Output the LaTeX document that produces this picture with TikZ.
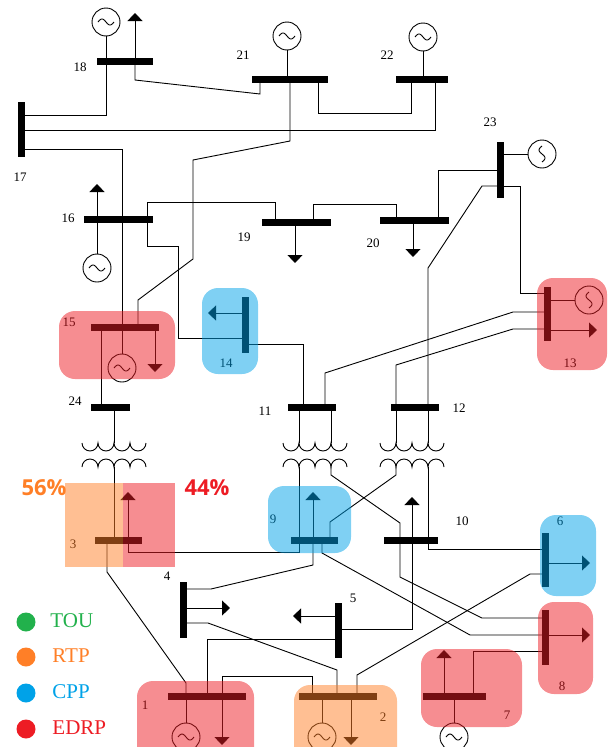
\documentclass[tikz,border=0pt]{standalone}
\usepackage{fontspec}
\setmainfont{Liberation Serif}
\newfontfamily\pctfont{Open Sans}
\usetikzlibrary{arrows.meta}
\definecolor{edrp}{RGB}{237,28,36}
\definecolor{rtp}{RGB}{255,127,39}
\definecolor{cpp}{RGB}{0,162,232}
\definecolor{tou}{RGB}{34,177,76}
\begin{document}
\begin{tikzpicture}[x=1pt,y=-1pt,line width=0.9pt,
  hbus/.style={rectangle,fill=black,inner sep=0pt,minimum height=7pt,minimum width=#1},
  vbus/.style={rectangle,fill=black,inner sep=0pt,minimum width=7pt,minimum height=#1},
  genbase/.style={circle,draw,inner sep=0pt,minimum size=28pt},
  gen/.style={genbase,path picture={\draw[shift={(path picture bounding box.center)}]
    plot[domain=-180:180,samples=25,smooth] ({\x/180*8},{3*sin(\x)});}},
  genv/.style={genbase,path picture={\draw[shift={(path picture bounding box.center)}]
    plot[domain=-180:180,samples=25,smooth] ({3*sin(\x)},{\x/180*8});}},
  load/.style={-{Triangle[width=15pt,length=8pt]}},
  num/.style={font=\fontsize{13}{15}\selectfont,inner sep=0pt},
  key/.style={font=\fontsize{21}{24}\selectfont,inner sep=0pt,anchor=west},
  pct/.style={font=\pctfont\bfseries\fontsize{22}{26}\selectfont,inner sep=0pt},
  dot/.style={circle,inner sep=0pt,minimum size=19pt},
  box/.style={fill=#1,fill opacity=0.5}]
\useasboundingbox (0,0) rectangle (611,747);
\clip (0,0) rectangle (611,747);

% buses
\node[hbus=56pt] (b18) at (125,61) {};
\node[hbus=76pt] (b21) at (290,79) {};
\node[hbus=52pt] (b22) at (422,79) {};
\node[vbus=55pt] (b17) at (21,129.5) {};
\node[hbus=69pt] (b16) at (118.5,219) {};
\node[hbus=69pt] (b19) at (296.5,222) {};
\node[hbus=69pt] (b20) at (414.5,220) {};
\node[vbus=56pt] (b23) at (500,170) {};
\node[vbus=54pt] (b13) at (547,314) {};
\node[vbus=56pt] (b14) at (245,325) {};
\node[hbus=68pt] (b15) at (125,327) {};
\node[hbus=39pt] (b24) at (110.5,407) {};
\node[hbus=48pt] (b11) at (312,407) {};
\node[hbus=48pt] (b12) at (415,407) {};
\node[hbus=47pt] (b3) at (118.5,540) {};
\node[hbus=47pt] (b9) at (314.5,540) {};
\node[hbus=54pt] (b10) at (411,540) {};
\node[vbus=56pt] (b4) at (183,610) {};
\node[vbus=55pt] (b5) at (338,630.5) {};
\node[vbus=54pt] (b6) at (545,560) {};
\node[vbus=55pt] (b8) at (545,637.5) {};
\node[hbus=78pt] (b1) at (207,696) {};
\node[hbus=78pt] (b2) at (338,696) {};
\node[hbus=63pt] (b7) at (454.5,696) {};

% generators
\node[gen] (g18) at (106,22) {};
\node[gen] (g21) at (287,36) {};
\node[gen] (g22) at (423,37) {};
\node[genv] (g23) at (542,154) {};
\node[genv] (g13) at (589,300) {};
\node[gen] (g16) at (97,268) {};
\node[gen] (g15) at (122,368) {};
\node[gen] (g1) at (186,737) {};
\node[gen] (g2) at (322,737) {};
\node[gen] (g7) at (454,737) {};
\draw (g18) -- (g18 |- b18);
\draw (g21) -- (g21 |- b21);
\draw (g22) -- (g22 |- b22);
\draw (g23) -- (b23 |- g23);
\draw (g13) -- (b13 |- g13);
\draw (g16) -- (g16 |- b16);
\draw (g15) -- (g15 |- b15);
\draw (g1) -- (g1 |- b1);
\draw (g2) -- (g2 |- b2);
\draw (g7) -- (g7 |- b7);

% loads
\draw[load] (135,0 |- b18) -- (135,13);
\draw[load] (97,0 |- b16) -- (97,184);
\draw[load] (295,0 |- b19) -- (295,263);
\draw[load] (413,0 |- b20) -- (413,257);
\draw[load] (155,0 |- b15) -- (155,372);
\draw[load] (b14 |- 0,313) -- (208,313);
\draw[load] (b13 |- 0,330) -- (597,330);
\draw[load] (128,0 |- b3) -- (128,492);
\draw[load] (313,0 |- b9) -- (313,492);
\draw[load] (412,0 |- b10) -- (412,497);
\draw[load] (b6 |- 0,563) -- (590,563);
\draw[load] (b8 |- 0,635) -- (590,635);
\draw[load] (b4 |- 0,608) -- (230,608);
\draw[load] (b5 |- 0,616) -- (293,616);
\draw[load] (444,0 |- b7) -- (444,650);
\draw[load] (222,0 |- b1) -- (222,745);
\draw[load] (351,0 |- b2) -- (351,745);

% lines
\draw (b17 |- 0,115) -| (106,0 |- b18);
\draw (b17 |- 0,130) -| (435,0 |- b22);
\draw (b17 |- 0,149) -| (122,0 |- b15);
\draw (135,0 |- b18) -- (135,80) -- (260,94) -- (260,0 |- b21);
\draw (318,0 |- b21) -- (318,113) -| (411,0 |- b22);
\draw (290,0 |- b21) -- (290,141) -- (193,160) -- (193,259) -- (138,300) -- (138,0 |- b15);
\draw (147,0 |- b16) |- (275,202) -- (275,0 |- b19);
\draw (147,0 |- b16) -- (147,246) -| (178,338) -- (b14 |- 0,338);
\draw (313,0 |- b19) |- (396,204) -- (396,0 |- b20);
\draw (438,0 |- b20) |- (b23 |- 0,170);
\draw (b23 |- 0,186) -- (482,186) -- (428,268) -- (428,0 |- b12);
\draw (b23 |- 0,186) -| (520,293) -- (b13 |- 0,293);
\draw (b13 |- 0,312) -- (513,312) -- (325,373) -- (325,0 |- b11);
\draw (b13 |- 0,329) -- (513,329) -- (396,365) -- (396,0 |- b12);
\draw (b14 |- 0,344) -| (303,0 |- b11);
\draw (101,0 |- b15) -- (101,0 |- b24);
\draw (114,0 |- b24) -- (114,443);
\draw (114,467) -- (114,0 |- b3);
\draw (299,0 |- b11) -- (299,443);
\draw (331,0 |- b11) -- (331,443);
\draw (396,0 |- b12) -- (396,443);
\draw (428,0 |- b12) -- (428,443);
\draw (299,467) -- (299,0 |- b9);
\draw (331,467) -- (331,475) -- (400,523) -- (400,0 |- b10);
\draw (396,467) -- (396,475) -- (330,522) -- (330,0 |- b9);
\draw (428,467) -- (428,0 |- b10);
\draw (128,0 |- b3) -- (128,552) -| (299,0 |- b9);
\draw (107,0 |- b3) -- (107,572) -- (186,683) -- (186,0 |- b1);
\draw (313,0 |- b9) -- (313,565) -- (211,589) -- (b4 |- 0,589);
\draw (322,0 |- b9) -- (322,553) -- (470,635) -- (b8 |- 0,635);
\draw (400,0 |- b10) -- (400,577) -- (482,618) -- (b8 |- 0,618);
\draw (428,0 |- b10) |- (b6 |- 0,549);
\draw (412,0 |- b10) |- (b5 |- 0,629);
\draw (b4 |- 0,623) -- (208,623) -- (337,670) -- (337,0 |- b2);
\draw (b5 |- 0,639) -| (207,0 |- b1);
\draw (222,0 |- b1) |- (312,676) -- (312,0 |- b2);
\draw (357,0 |- b2) -- (357,675) -- (530,574) -- (b6 |- 0,574);
\draw (b8 |- 0,651) -| (473,0 |- b7);

% transformers
\foreach \tx in {82,283,380}{
  \draw (\tx,443) arc(180:0:8) arc(180:0:8) arc(180:0:8) arc(180:0:8);
  \draw (\tx,467) arc(180:360:8) arc(180:360:8) arc(180:360:8) arc(180:360:8);
}

% bus numbers
\node[num] (t1) at (145,705) {1};
\node[num] (t2) at (383,717) {2};
\node[num] (t3) at (73,544) {3};
\node[num] (t4) at (167,576) {4};
\node[num] (t5) at (353,598) {5};
\node[num] (t6) at (560,521) {6};
\node[num] (t7) at (507,715) {7};
\node[num] (t8) at (562,686) {8};
\node[num] (t9) at (273,519) {9};
\node[num] (t10) at (462,521) {10};
\node[num] (t11) at (265,411) {11};
\node[num] (t12) at (459,408) {12};
\node[num] (t13) at (570,363) {13};
\node[num] (t14) at (226,363) {14};
\node[num] (t15) at (69,322) {15};
\node[num] (t16) at (68,218) {16};
\node[num] (t17) at (20,177) {17};
\node[num] (t18) at (80,67) {18};
\node[num] (t19) at (244,237) {19};
\node[num] (t20) at (373,243) {20};
\node[num] (t21) at (243,55) {21};
\node[num] (t22) at (387,55) {22};
\node[num] (t23) at (490,122) {23};
\node[num] (t24) at (75,401) {24};

% programme areas
\fill[box=edrp,rounded corners=16pt] (59,311) rectangle (175,379);
\fill[box=cpp,rounded corners=16pt] (202,288) rectangle (258,374);
\fill[box=edrp,rounded corners=16pt] (537,278) rectangle (607,370);
\fill[box=cpp,rounded corners=16pt] (268,486) rectangle (351,553);
\fill[box=rtp] (65,483) rectangle (123,567);
\fill[box=edrp] (123,483) rectangle (175,567);
\fill[box=cpp,rounded corners=16pt] (540,515) rectangle (596,596);
\fill[box=edrp,rounded corners=16pt] (538,602) rectangle (593,694);
\fill[box=edrp,rounded corners=16pt] (421,649) rectangle (522,727);
\fill[box=edrp,rounded corners=16pt] (137,681) rectangle (254,770);
\fill[box=rtp,rounded corners=16pt] (294,685) rectangle (397,770);
\node[pct,text=rtp] (p56) at (44,488) {56\%};
\node[pct,text=edrp] (p44) at (207,488) {44\%};

% legend
\node[dot,fill=tou] (dtou) at (26,622) {};
\node[dot,fill=rtp] (drtp) at (26,657) {};
\node[dot,fill=cpp] (dcpp) at (26,693) {};
\node[dot,fill=edrp] (dedrp) at (26,729) {};
\node[key,text=tou] (ktou) at (50,621) {TOU};
\node[key,text=rtp] (krtp) at (52,656) {RTP};
\node[key,text=cpp] (kcpp) at (52,692) {CPP};
\node[key,text=edrp] (kedrp) at (52,728) {EDRP};
\end{tikzpicture}
\end{document}
